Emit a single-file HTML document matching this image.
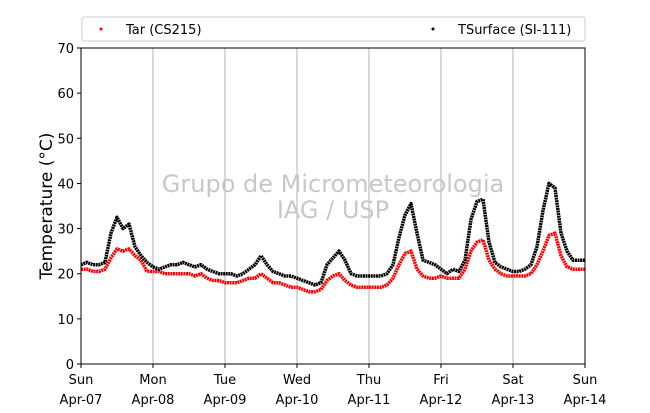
<!DOCTYPE html>
<html><head><meta charset="utf-8"><style>
body{margin:0;background:#fff;font-family:"DejaVu Sans","Liberation Sans",sans-serif}
</style></head><body>
<svg id="chart" width="650" height="409" xmlns="http://www.w3.org/2000/svg" font-family="DejaVu Sans, Liberation Sans, sans-serif">
<g id="grid"></g>
<text x="333" y="192" font-size="24" fill="#c8c8c8" text-anchor="middle">Grupo de Micrometeorologia</text>
<text x="333" y="218" font-size="24" fill="#c8c8c8" text-anchor="middle">IAG / USP</text>
<g id="series"></g>
<rect x="81" y="48" width="504" height="316" fill="none" stroke="#000" stroke-width="1"/>
<g id="axes"></g>
<text transform="translate(52,206) rotate(-90)" font-size="17" text-anchor="middle">Temperature (°C)</text>
<g>
<rect x="82" y="17" width="503" height="24" fill="#fff" stroke="#ccc" rx="2"/>
<circle cx="101" cy="29" r="1.5" fill="red"/>
<text x="126" y="34" font-size="13">Tar (CS215)</text>
<circle cx="433" cy="29" r="1.5" fill="#000"/>
<text x="458" y="34" font-size="13">TSurface (SI-111)</text>
</g>
</svg>
<script>
const dayLabels=["Sun","Mon","Tue","Wed","Thu","Fri","Sat","Sun"];
const dateLabels=["Apr-07","Apr-08","Apr-09","Apr-10","Apr-11","Apr-12","Apr-13","Apr-14"];
const yTicks=[0,10,20,30,40,50,60,70];
// 2-hourly values, hours from Apr-07 00:00
const tSurface=[22,22.5,22,22,22.5,29,32.5,30,31,26,24,22.5,
21.5,21,21.5,22,22,22.5,22,21.5,22,21,20.5,20,
20,20,19.5,20,21,22,24,22,20.5,20,19.5,19.5,
19,18.5,18,17.5,18,22,23.5,25,23,20,19.5,19.5,
19.5,19.5,19.5,20,22,28,33,35.5,29,23,22.5,22,
21,20,21,20.5,23,32,36,36.5,27,22.5,21.5,21,
20.5,20.5,21,22,26,34,40,39,29,25,23,23,23];
const tAir=[21,21,20.5,20.5,21,23.5,25.5,25,25.5,24,23,20.5,
20.5,20.5,20,20,20,20,20,19.5,20,19,18.5,18.5,
18,18,18,18.5,19,19,20,19,18,18,17.5,17,
17,16.5,16,16,16.5,18.5,19.5,20,18.5,17.5,17,17,
17,17,17,17.5,19,22,24.5,25,21,19.5,19,19,
19.5,19,19,19,21,25,27,27.5,23,21,20,19.5,
19.5,19.5,19.5,20,22,25,28.5,29,24,21.5,21,21,21];
const stepHours=2;
const NS="http://www.w3.org/2000/svg";
const x0=81,x1=585,yTop=48,yBot=364;
const xs=h=>x0+(h/168)*(x1-x0);
const ys=v=>yBot-(v/70)*(yBot-yTop);
function mk(tag,attrs,parent,txt){const e=document.createElementNS(NS,tag);for(const k in attrs)e.setAttribute(k,attrs[k]);if(txt!==undefined)e.textContent=txt;parent.appendChild(e);return e;}
const grid=document.getElementById('grid'),axes=document.getElementById('axes'),series=document.getElementById('series');
for(let d=0;d<dayLabels.length;d++){
  const x=xs(d*24);
  if(d>0&&d<7){const l=mk('line',{x1:x,x2:x,y1:yTop,y2:yBot,stroke:'#b0b0b0','stroke-width':1},grid);
  }
  const t=mk('line',{x1:x,x2:x,y1:yBot,y2:yBot+4,stroke:'#000'},axes);
  
  const a=mk('text',{x:x,y:yBot+20,'font-size':13,'text-anchor':'middle'},axes,dayLabels[d]);
  
  const b=mk('text',{x:x,y:yBot+40,'font-size':13,'text-anchor':'middle'},axes,dateLabels[d]);
  
}
yTicks.forEach(v=>{
  const y=ys(v);
  const t=mk('line',{x1:x0-4,x2:x0,y1:y,y2:y,stroke:'#000'},axes);
  
  const l=mk('text',{x:x0-7,y:y+5,'font-size':13,'text-anchor':'end'},axes,v);
  
});
function drawSeries(vals,color,name){
  const pts=vals.map((v,i)=>xs(i*stepHours).toFixed(1)+','+ys(v).toFixed(1)).join(' ');
  const p=mk('polyline',{points:pts,fill:'none',stroke:color,'stroke-width':3.5,'stroke-linejoin':'round','stroke-dasharray':'2 0.6'},series);
  
}
drawSeries(tAir,'red','series-tar');
drawSeries(tSurface,'#000','series-tsurface');
</script>
</body></html>
